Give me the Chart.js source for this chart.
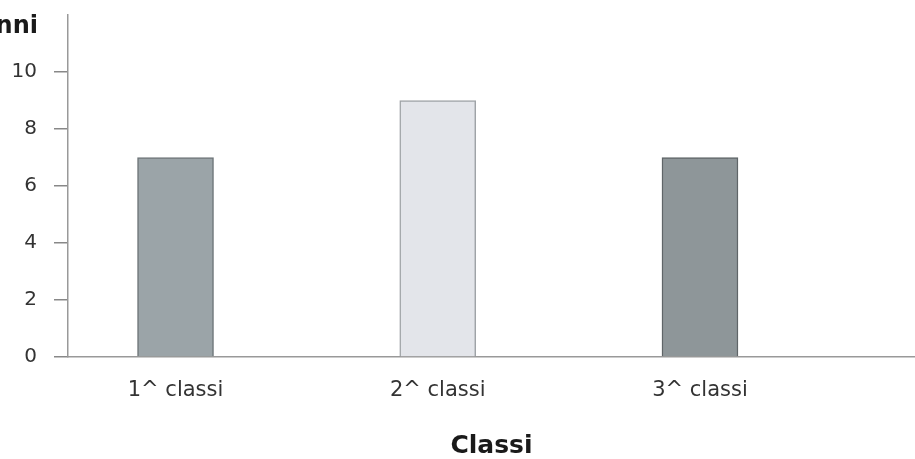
<!DOCTYPE html>
<html>
<head>
<meta charset="utf-8">
<script src="https://cdn.jsdelivr.net/npm/chart.js@4.4.0/dist/chart.umd.min.js"></script>
<style>
  html, body { margin: 0; padding: 0; background: #fff; overflow: hidden; }
  #wrap { width: 915px; height: 459px; position: relative; }
</style>
</head>
<body>
<div id="wrap"><canvas id="c"></canvas></div>
<script>
const categories = ['1^ classi', '2^ classi', '3^ classi'];
const values = [7, 9, 7];
const barColors = ['#9ba4a8', '#e3e5ea', '#8e9699'];
const barBorders = ['#6f7679', '#9fa3a7', '#5f6568'];
const yTicks = [0, 2, 4, 6, 8, 10];
const yTitle = 'Anni';
const xTitle = 'Classi';
const FONT = '"DejaVu Sans", "Liberation Sans", Arial, sans-serif';

const topLabel = {
  id: 'topLabel',
  afterDraw(chart) {
    const ctx = chart.ctx;
    ctx.save();
    ctx.font = 'bold 24px ' + FONT;
    ctx.fillStyle = '#1a1a1a';
    ctx.textAlign = 'right';
    ctx.textBaseline = 'alphabetic';
    ctx.fillText(yTitle, 38, 33);
    ctx.restore();
  }
};

new Chart(document.getElementById('c'), {
  type: 'bar',
  data: {
    datasets: [{
      data: values.map((v, i) => ({ x: i, y: v })),
      backgroundColor: barColors,
      borderColor: barBorders,
      borderWidth: 1.5,
      barThickness: 76
    }]
  },
  options: {
    responsive: true,
    maintainAspectRatio: false,
    animation: false,
    layout: { padding: { top: 15, right: 0, left: 0, bottom: 0 } },
    plugins: { legend: { display: false }, tooltip: { enabled: false } },
    scales: {
      x: {
        type: 'linear',
        offset: false,
        min: -0.41,
        max: 2.82,
        afterBuildTicks: s => { s.ticks = categories.map((c, i) => ({ value: i })); },
        afterFit: s => { s.height = 102; s.paddingLeft = 0; s.paddingRight = 0; },
        grid: { offset: false, drawOnChartArea: false, drawTicks: false },
        border: { display: true, color: '#999', width: 1.5 },
        ticks: {
          autoSkip: false,
          maxRotation: 0,
          padding: 21,
          color: '#333',
          font: { family: FONT, size: 21 },
          callback: v => categories[v] !== undefined ? categories[v] : ''
        },
        title: {
          display: true,
          text: xTitle,
          color: '#1a1a1a',
          padding: { top: 0, bottom: 0 },
          font: { family: FONT, size: 25, weight: 'bold', lineHeight: 1.0 }
        }
      },
      y: {
        min: 0,
        max: 12,
        afterBuildTicks: s => { s.ticks = yTicks.concat([12]).map(v => ({ value: v })); },
        afterFit: s => { s.width = 68; s.paddingTop = 0; s.paddingBottom = 0; },
        grid: {
          drawOnChartArea: false,
          drawTicks: true,
          tickLength: 14,
          color: ctx => (ctx.tick && ctx.tick.value === 12) ? 'rgba(0,0,0,0)' : '#888',
          lineWidth: 1.5
        },
        border: { display: true, color: '#999', width: 1.5 },
        ticks: {
          padding: 17,
          color: '#333',
          font: { family: FONT, size: 20 },
          callback: v => v === 12 ? '' : v
        }
      }
    }
  },
  plugins: [topLabel]
});
</script>
</body>
</html>
